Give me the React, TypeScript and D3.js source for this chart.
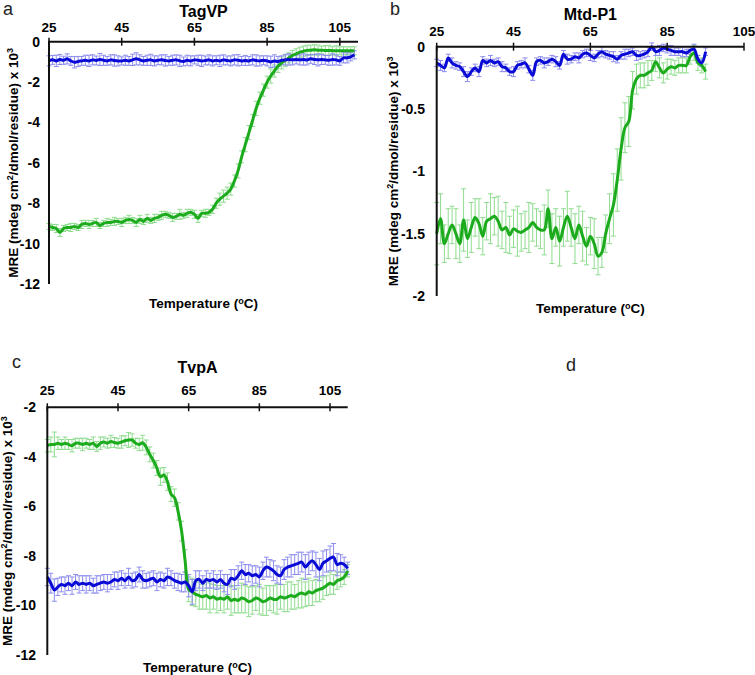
import React from "react";
import * as d3 from "d3";

// ---------- DATA ----------
const tickTemps = [25, 45, 65, 85, 105];

// Panel a: TagVP (25..109 °C, 1 °C steps)
const aStart = 25;
const aBlue = [
  -0.95, -0.9, -0.95, -0.88, -0.92, -0.85, -0.95, -1.02, -0.98, -0.95,
  -0.92, -0.95, -0.9, -0.93, -0.88, -0.92, -0.95, -0.9, -0.93, -0.95,
  -0.95, -0.92, -0.95, -0.9, -0.85, -0.9, -0.95, -0.92, -0.9, -0.95,
  -0.92, -0.9, -0.93, -0.95, -0.92, -0.9, -0.95, -0.98, -0.92, -0.95,
  -0.9, -0.92, -0.95, -0.93, -0.9, -0.95, -0.92, -0.95, -0.9, -0.93,
  -0.95, -0.9, -0.92, -0.95, -0.93, -0.95, -0.9, -0.93, -0.95, -0.92,
  -0.95, -1.0, -0.95, -0.98, -0.92, -0.9, -0.88, -0.9, -0.88, -0.9,
  -0.88, -0.9, -0.85, -0.88, -0.9, -0.88, -0.9, -0.92, -0.88, -0.9,
  -0.95, -0.8, -0.8, -0.75, -0.65,
];
const aBlueErr = [
  0.25, 0.22, 0.28, 0.25, 0.2, 0.25, 0.22, 0.28, 0.25, 0.22,
  0.25, 0.28, 0.25, 0.22, 0.3, 0.25, 0.22, 0.25, 0.28, 0.25,
  0.2, 0.25, 0.22, 0.28, 0.3, 0.25, 0.22, 0.25, 0.28, 0.25,
  0.22, 0.25, 0.28, 0.22, 0.25, 0.25, 0.28, 0.22, 0.25, 0.25,
  0.2, 0.25, 0.28, 0.22, 0.25, 0.25, 0.22, 0.28, 0.25, 0.22,
  0.25, 0.25, 0.28, 0.22, 0.25, 0.22, 0.25, 0.28, 0.25, 0.22,
  0.25, 0.28, 0.3, 0.25, 0.22, 0.25, 0.28, 0.25, 0.22, 0.25,
  0.28, 0.25, 0.22, 0.25, 0.3, 0.25, 0.22, 0.25, 0.28, 0.25,
  0.22, 0.25, 0.25, 0.2, 0.2,
];
const aGreen = [
  -9.15, -9.2, -9.25, -9.45, -9.25, -9.2, -9.2, -9.15, -9.2, -9.05,
  -9.0, -9.05, -9.0, -8.95, -9.1, -9.0, -8.95, -8.95, -8.9, -8.9,
  -8.95, -8.85, -8.8, -8.85, -8.95, -8.8, -8.9, -8.75, -8.85, -8.75,
  -8.7, -8.6, -8.55, -8.6, -8.7, -8.65, -8.55, -8.6, -8.5, -8.45,
  -8.55, -8.75, -8.5, -8.5, -8.45, -8.3, -8.0, -7.8, -7.65, -7.5,
  -7.3, -6.9, -6.4, -5.7, -5.1, -4.5, -3.9, -3.3, -2.8, -2.4,
  -2.0, -1.7, -1.45, -1.22, -1.05, -0.92, -0.8, -0.68, -0.6, -0.52,
  -0.47, -0.43, -0.42, -0.4, -0.42, -0.42, -0.44, -0.43, -0.45, -0.45,
  -0.45, -0.45, -0.45, -0.45, -0.45,
];
const aGreenErr = [
  0.15, 0.15, 0.2, 0.2, 0.15, 0.15, 0.2, 0.15, 0.15, 0.2,
  0.15, 0.2, 0.15, 0.2, 0.15, 0.15, 0.2, 0.15, 0.2, 0.15,
  0.2, 0.15, 0.2, 0.15, 0.2, 0.2, 0.15, 0.2, 0.15, 0.2,
  0.15, 0.2, 0.15, 0.15, 0.2, 0.15, 0.25, 0.15, 0.2, 0.15,
  0.2, 0.2, 0.15, 0.2, 0.15, 0.2, 0.25, 0.3, 0.3, 0.3,
  0.3, 0.3, 0.35, 0.3, 0.35, 0.35, 0.3, 0.35, 0.3, 0.3,
  0.3, 0.35, 0.3, 0.3, 0.3, 0.3, 0.25, 0.25, 0.25, 0.25,
  0.25, 0.25, 0.25, 0.25, 0.25, 0.2, 0.25, 0.25, 0.2, 0.25,
  0.2, 0.2, 0.2, 0.2, 0.2,
];

// Panel b: Mtd-P1 (25..95 °C)
const bStart = 25;
const bBlue = [
  -0.13, -0.15, -0.17, -0.09, -0.13, -0.15, -0.16, -0.2, -0.24, -0.2,
  -0.17, -0.2, -0.11, -0.13, -0.11, -0.13, -0.12, -0.16, -0.17, -0.2,
  -0.2, -0.15, -0.14, -0.13, -0.18, -0.23, -0.12, -0.11, -0.13, -0.12,
  -0.1, -0.12, -0.15, -0.06, -0.1, -0.1, -0.08, -0.09, -0.06, -0.05,
  -0.07, -0.09, -0.06, -0.04, -0.06, -0.07, -0.08, -0.1, -0.07, -0.06,
  -0.05, -0.04, -0.07, -0.07, -0.06, -0.04, 0.0, -0.04, -0.03, -0.01,
  -0.02, -0.03, -0.04, -0.04, -0.04, -0.05, -0.03, -0.02, -0.1, -0.13,
  -0.04,
];
const bBlueErr = [
  0.03, 0.04, 0.03, 0.03, 0.04, 0.03, 0.03, 0.04, 0.04, 0.03,
  0.03, 0.04, 0.03, 0.03, 0.04, 0.03, 0.03, 0.04, 0.03, 0.03,
  0.04, 0.03, 0.03, 0.04, 0.03, 0.04, 0.03, 0.03, 0.04, 0.03,
  0.03, 0.04, 0.03, 0.03, 0.04, 0.03, 0.03, 0.04, 0.03, 0.03,
  0.04, 0.03, 0.03, 0.04, 0.03, 0.03, 0.04, 0.03, 0.03, 0.04,
  0.03, 0.03, 0.04, 0.03, 0.03, 0.04, 0.03, 0.03, 0.04, 0.03,
  0.03, 0.04, 0.03, 0.03, 0.04, 0.03, 0.03, 0.04, 0.03, 0.03,
  0.03,
];
const bGreen = [
  -1.5, -1.38, -1.58, -1.5, -1.43, -1.5, -1.58, -1.39, -1.54, -1.45,
  -1.37, -1.42, -1.52, -1.4, -1.38, -1.36, -1.4, -1.47, -1.45, -1.51,
  -1.46, -1.48, -1.49, -1.47, -1.45, -1.41, -1.45, -1.47, -1.47, -1.3,
  -1.54, -1.45, -1.56, -1.45, -1.36, -1.45, -1.54, -1.43, -1.52, -1.6,
  -1.52, -1.58, -1.68, -1.65, -1.5, -1.38, -1.27, -1.07, -0.82, -0.65,
  -0.6, -0.35, -0.26, -0.23, -0.23, -0.21, -0.19, -0.12, -0.17, -0.21,
  -0.18, -0.16, -0.17, -0.15, -0.15, -0.15, -0.08, -0.05, -0.13, -0.15,
  -0.2,
];
const bGreenErr = [
  0.25, 0.2, 0.15, 0.2, 0.15, 0.2, 0.15, 0.25, 0.15, 0.2,
  0.15, 0.2, 0.15, 0.15, 0.2, 0.15, 0.2, 0.15, 0.2, 0.15,
  0.15, 0.2, 0.15, 0.15, 0.2, 0.15, 0.15, 0.15, 0.2, 0.15,
  0.2, 0.15, 0.2, 0.15, 0.2, 0.15, 0.2, 0.15, 0.2, 0.15,
  0.15, 0.2, 0.15, 0.12, 0.15, 0.2, 0.25, 0.25, 0.25, 0.2,
  0.2, 0.15, 0.12, 0.1, 0.1, 0.1, 0.08, 0.08, 0.08, 0.08,
  0.08, 0.06, 0.06, 0.06, 0.06, 0.06, 0.06, 0.06, 0.06, 0.06,
  0.06,
];

// Panel c: TvpA (25..110 °C)
const cStart = 25;
const cGreen = [
  -3.55, -3.5, -3.5, -3.45, -3.5, -3.45, -3.5, -3.55, -3.45, -3.45,
  -3.5, -3.45, -3.5, -3.45, -3.58, -3.45, -3.4, -3.45, -3.38, -3.42,
  -3.45, -3.4, -3.35, -3.32, -3.32, -3.45, -3.5, -3.43, -3.62, -3.9,
  -4.15, -4.45, -4.8, -4.73, -5.0, -5.5, -5.65, -6.2, -7.0, -8.2,
  -9.35, -9.45, -9.55, -9.6, -9.65, -9.6, -9.7, -9.65, -9.75, -9.7,
  -9.75, -9.65, -9.8, -9.75, -9.8, -9.7, -9.75, -9.85, -9.8, -9.7,
  -9.75, -9.85, -9.8, -9.7, -9.75, -9.75, -9.65, -9.7, -9.65, -9.6,
  -9.65, -9.55, -9.5, -9.55, -9.45, -9.5, -9.4, -9.35, -9.3, -9.2,
  -9.1, -9.15, -9.0, -8.95, -8.85, -8.6,
];
const cGreenErr = [
  0.25, 0.3, 0.5, 0.25, 0.2, 0.25, 0.2, 0.25, 0.2, 0.2,
  0.25, 0.2, 0.2, 0.25, 0.2, 0.25, 0.2, 0.2, 0.25, 0.2,
  0.2, 0.25, 0.2, 0.3, 0.25, 0.2, 0.25, 0.3, 0.3, 0.3,
  0.3, 0.3, 0.35, 0.3, 0.35, 0.3, 0.35, 0.35, 0.4, 0.45,
  0.5, 0.55, 0.5, 0.55, 0.5, 0.55, 0.6, 0.5, 0.55, 0.5,
  0.55, 0.5, 0.6, 0.55, 0.5, 0.6, 0.55, 0.6, 0.55, 0.5,
  0.6, 0.55, 0.6, 0.5, 0.55, 0.6, 0.5, 0.55, 0.6, 0.55,
  0.5, 0.55, 0.6, 0.5, 0.55, 0.5, 0.45, 0.5, 0.45, 0.4,
  0.45, 0.4, 0.35, 0.3, 0.3, 0.25,
];
const cBlue = [
  -8.85, -9.1, -9.38, -9.25, -9.15, -9.2, -9.1, -9.2, -9.05, -9.15,
  -9.1, -9.15, -9.1, -9.2, -9.15, -9.1, -9.05, -9.1, -9.05, -8.95,
  -9.0, -8.9, -9.0, -8.85, -9.0, -8.95, -8.75, -8.95, -9.0, -8.95,
  -8.9, -9.05, -8.95, -9.0, -8.85, -8.9, -9.0, -9.05, -9.1, -9.05,
  -9.2, -9.45, -9.0, -8.95, -9.1, -8.95, -9.0, -8.95, -9.05, -8.95,
  -9.1, -9.15, -8.9, -8.95, -8.8, -8.6, -8.75, -8.7, -8.8, -8.75,
  -8.85, -8.6, -8.45, -8.5, -8.6, -8.75, -8.8, -8.55, -8.45, -8.4,
  -8.35, -8.3, -8.25, -8.45, -8.3, -8.2, -8.35, -8.55, -8.3, -8.2,
  -8.1, -8.05, -8.35, -8.3, -8.35, -8.5,
];
const cBlueErr = [
  0.35, 0.4, 0.45, 0.35, 0.3, 0.35, 0.3, 0.35, 0.3, 0.35,
  0.3, 0.35, 0.3, 0.3, 0.35, 0.3, 0.3, 0.35, 0.3, 0.3,
  0.35, 0.3, 0.3, 0.35, 0.3, 0.3, 0.3, 0.35, 0.3, 0.3,
  0.3, 0.35, 0.3, 0.3, 0.35, 0.3, 0.3, 0.35, 0.35, 0.4,
  0.45, 0.5, 0.4, 0.35, 0.3, 0.35, 0.3, 0.35, 0.3, 0.35,
  0.35, 0.4, 0.35, 0.4, 0.4, 0.35, 0.4, 0.35, 0.4, 0.35,
  0.4, 0.35, 0.4, 0.35, 0.4, 0.35, 0.35, 0.4, 0.4, 0.45,
  0.4, 0.45, 0.4, 0.5, 0.45, 0.4, 0.5, 0.45, 0.5, 0.45,
  0.5, 0.55, 0.45, 0.35, 0.3, 0.25,
];

const aYTicks = [0, -2, -4, -6, -8, -10, -12];
const bYTicks = [0, -0.5, -1, -1.5, -2];
const cYTicks = [-2, -4, -6, -8, -10, -12];

// ---------- STYLE ----------
const GREEN = "#1cab1c";
const BLUE = "#0a0ad6";
const GREEN_ERR = "#8fdc8f";
const BLUE_ERR = "#8c8cee";
const FONT = "'Liberation Sans', Arial, sans-serif";

type Series = { start: number; values: number[]; err: number[]; color: string; errColor: string };

type PanelProps = {
  letter: string;
  letterX: number;
  letterY: number;
  title: string;
  x0: number;
  x1: number;
  xDomain: [number, number];
  y0: number;
  y1: number;
  yDomain: [number, number];
  yTicks: number[];
  series: Series[];
  titleY: number;
  tickLabelY: number;
  yLabelRight: number;
  tempLabelY: number;
  yTitleX: number;
};

function Panel(p: PanelProps) {
  const x = d3.scaleLinear().domain(p.xDomain).range([p.x0, p.x1]);
  const y = d3.scaleLinear().domain(p.yDomain).range([p.y0, p.y1]);
  const line = d3
    .line<[number, number]>()
    .x((d) => x(d[0]))
    .y((d) => y(d[1]))
    .curve(d3.curveCatmullRom.alpha(0.5));
  const xMid = (p.x0 + p.x1) / 2;
  const yMid = (p.y0 + p.y1) / 2;
  return (
    <g>
      <text x={p.letterX} y={p.letterY} fontSize={18} fontFamily={FONT} fill="#222">
        {p.letter}
      </text>
      <text x={xMid} y={p.titleY} fontSize={16} fontWeight="bold" textAnchor="middle" fontFamily={FONT}>
        {p.title}
      </text>
      {/* error bars */}
      {p.series.map((s, si) => (
        <g key={"e" + si} stroke={s.errColor} strokeWidth={1} fill="none">
          {s.values.map((v, i) => {
            const t = s.start + i;
            const e = s.err[i];
            const cx = x(t);
            const yt = y(v + e);
            const yb = y(v - e);
            return (
              <g key={i}>
                <line x1={cx} x2={cx} y1={yt} y2={yb} />
                <line x1={cx - 2.5} x2={cx + 2.5} y1={yt} y2={yt} />
                <line x1={cx - 2.5} x2={cx + 2.5} y1={yb} y2={yb} />
              </g>
            );
          })}
        </g>
      ))}
      {/* lines */}
      {p.series.map((s, si) => (
        <path
          key={"l" + si}
          d={line(s.values.map((v, i) => [s.start + i, v] as [number, number])) || ""}
          fill="none"
          stroke={s.color}
          strokeWidth={3}
          strokeLinejoin="round"
        />
      ))}
      {/* axes */}
      <line x1={p.x0} x2={p.x1} y1={p.y0} y2={p.y0} stroke="#111" strokeWidth={2} />
      <line x1={p.x0} x2={p.x0} y1={p.y0 - 1} y2={p.y1} stroke="#111" strokeWidth={2} />
      {tickTemps
        .filter((t) => t >= p.xDomain[0] && t <= p.xDomain[1])
        .map((t) => (
          <g key={t}>
            <line x1={x(t)} x2={x(t)} y1={p.y0 - 4} y2={p.y0 + 4} stroke="#111" strokeWidth={1.5} />
            <text
              x={x(t)}
              y={p.tickLabelY}
              fontSize={13.5}
              fontWeight="bold"
              textAnchor="middle"
              fontFamily={FONT}
            >
              {t}
            </text>
          </g>
        ))}
      {p.yTicks.map((v) => (
        <text
          key={v}
          x={p.yLabelRight}
          y={y(v)}
          dy="0.35em"
          fontSize={14}
          fontWeight="bold"
          textAnchor="end"
          fontFamily={FONT}
        >
          {v}
        </text>
      ))}
      <text x={xMid} y={p.tempLabelY} fontSize={13.5} fontWeight="bold" textAnchor="middle" fontFamily={FONT}>
        Temperature (
        <tspan fontSize={9} dy={-4}>
          o
        </tspan>
        <tspan dy={4}>C)</tspan>
      </text>
      <text
        transform={`translate(${p.yTitleX},${yMid}) rotate(-90)`}
        fontSize={13.5}
        fontWeight="bold"
        textAnchor="middle"
        fontFamily={FONT}
      >
        MRE (mdeg cm
        <tspan fontSize={9} dy={-5}>
          2
        </tspan>
        <tspan dy={5}>/dmol/residue) x 10</tspan>
        <tspan fontSize={9} dy={-5}>
          3
        </tspan>
      </text>
    </g>
  );
}

export default function App() {
  return (
    <svg width={755} height={675} style={{ position: "absolute", left: 0, top: 0, background: "#fff" }}>
      <rect width={755} height={675} fill="#fff" />
      <Panel
        letter="a"
        letterX={3}
        letterY={15}
        title="TagVP"
        x0={49}
        x1={358}
        xDomain={[25, 110]}
        y0={41.7}
        y1={284}
        yDomain={[0, -12]}
        yTicks={aYTicks}
        titleY={16.5}
        tickLabelY={32}
        yLabelRight={40}
        tempLabelY={308}
        yTitleX={18}
        series={[
          { start: aStart, values: aGreen, err: aGreenErr, color: GREEN, errColor: GREEN_ERR },
          { start: aStart, values: aBlue, err: aBlueErr, color: BLUE, errColor: BLUE_ERR },
        ]}
      />
      <Panel
        letter="b"
        letterX={390}
        letterY={15}
        title="Mtd-P1"
        x0={436.7}
        x1={744}
        xDomain={[25, 105]}
        y0={46.7}
        y1={296}
        yDomain={[0, -2]}
        yTicks={bYTicks}
        titleY={19.5}
        tickLabelY={36}
        yLabelRight={425}
        tempLabelY={313}
        yTitleX={398}
        series={[
          { start: bStart, values: bGreen, err: bGreenErr, color: GREEN, errColor: GREEN_ERR },
          { start: bStart, values: bBlue, err: bBlueErr, color: BLUE, errColor: BLUE_ERR },
        ]}
      />
      <Panel
        letter="c"
        letterX={12}
        letterY={368}
        title="TvpA"
        x0={47.3}
        x1={347.7}
        xDomain={[25, 110]}
        y0={407.3}
        y1={655}
        yDomain={[-2, -12]}
        yTicks={cYTicks}
        titleY={373}
        tickLabelY={395}
        yLabelRight={36}
        tempLabelY={672}
        yTitleX={12}
        series={[
          { start: cStart, values: cGreen, err: cGreenErr, color: GREEN, errColor: GREEN_ERR },
          { start: cStart, values: cBlue, err: cBlueErr, color: BLUE, errColor: BLUE_ERR },
        ]}
      />
      <text x={566} y={371} fontSize={18} fontFamily={FONT} fill="#222">
        d
      </text>
    </svg>
  );
}
